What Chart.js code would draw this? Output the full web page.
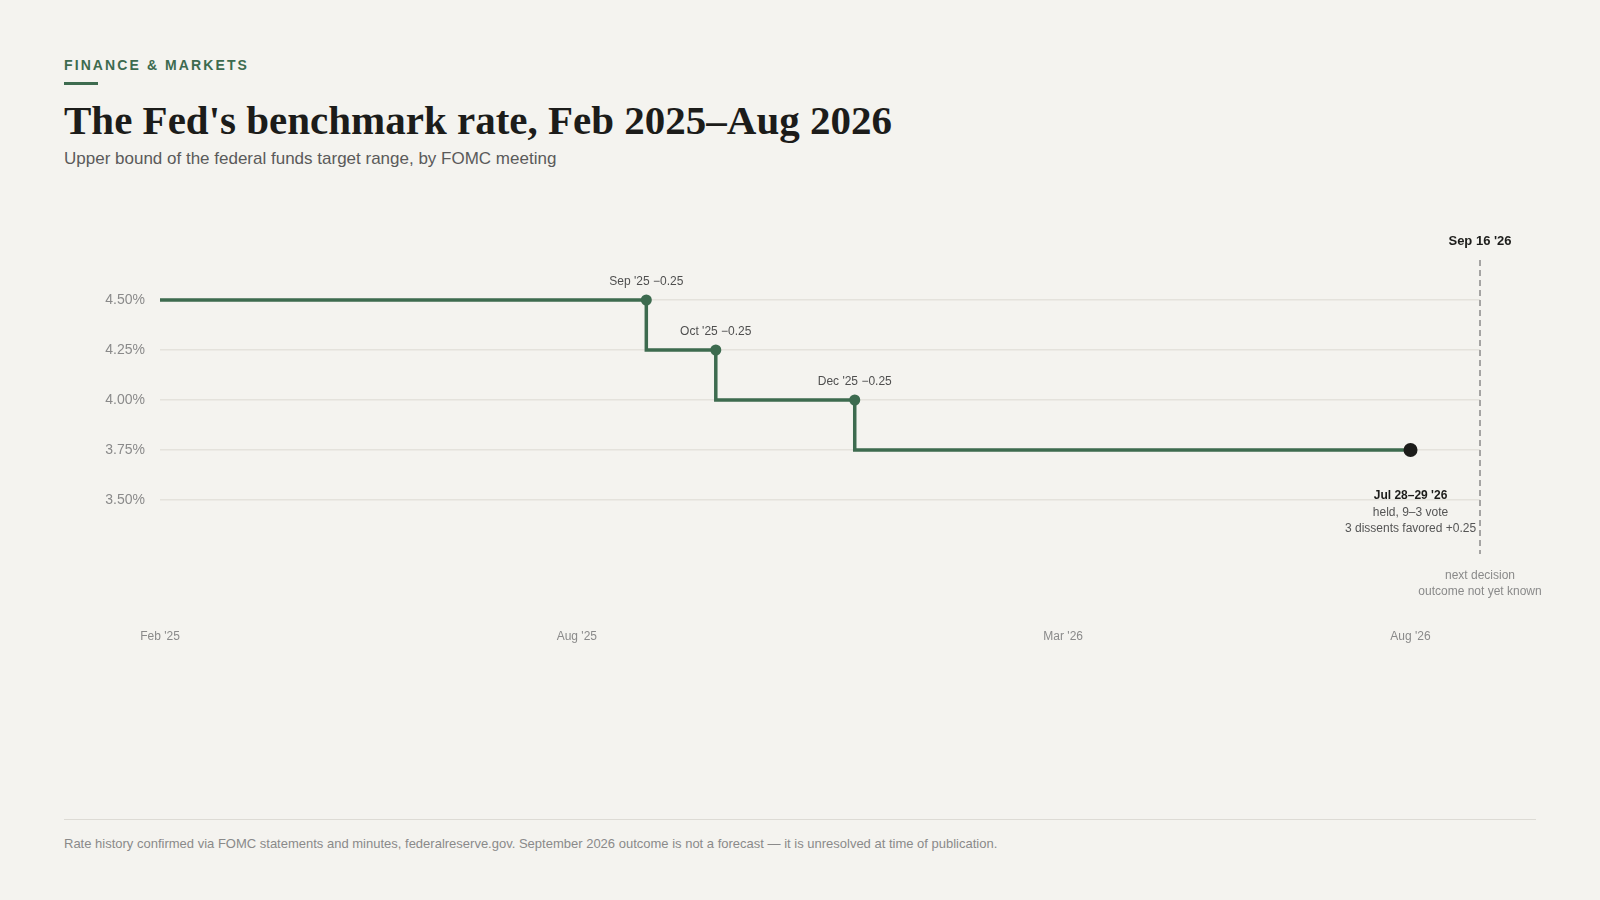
<!DOCTYPE html>
<html>
<head>
<meta charset="utf-8">
<script src="https://cdn.jsdelivr.net/npm/chart.js@4.4.1/dist/chart.umd.min.js"></script>
<style>
  html, body { margin: 0; padding: 0; }
  body {
    width: 1600px; height: 900px; position: relative; overflow: hidden;
    background: #f4f3ef; font-family: "Liberation Sans", Arial, sans-serif;
  }
  .kicker {
    position: absolute; left: 64px; top: 58px; font-size: 14px; line-height: 14px;
    font-weight: bold; letter-spacing: 2.1px; color: #3d6b4f;
  }
  .kicker_bar { position: absolute; left: 64px; top: 82px; width: 34px; height: 3px; background: #3d6b4f; }
  .title {
    position: absolute; left: 64px; top: 100px; margin: 0;
    font-family: "Liberation Serif", "Times New Roman", serif; font-weight: bold;
    font-size: 41px; line-height: 41px; color: #1c1c1a;
  }
  .subtitle { position: absolute; left: 64px; top: 150px; font-size: 17px; line-height: 17px; color: #5a5a5a; }
  .chart_wrap { position: absolute; left: 0; top: 200px; width: 1600px; height: 480px; }
  .rule { position: absolute; left: 64px; top: 819px; width: 1472px; height: 1px; background: #dddbd5; }
  .source { position: absolute; left: 64px; top: 837px; font-size: 13px; line-height: 13px; color: #8a8a8a; }
</style>
</head>
<body>
  <div class="kicker">FINANCE &amp; MARKETS</div>
  <div class="kicker_bar"></div>
  <h1 class="title">The Fed's benchmark rate, Feb 2025–Aug 2026</h1>
  <div class="subtitle">Upper bound of the federal funds target range, by FOMC meeting</div>
  <div class="chart_wrap"><canvas id="rateChart" width="1600" height="480"></canvas></div>
  <div class="rule"></div>
  <div class="source">Rate history confirmed via FOMC statements and minutes, federalreserve.gov. September 2026 outcome is not a forecast — it is unresolved at time of publication.</div>

<script>
// Months on the x axis, one per category
const months = ["Feb '25", "Mar '25", "Apr '25", "May '25", "Jun '25", "Jul '25", "Aug '25",
  "Sep '25", "Oct '25", "Nov '25", "Dec '25", "Jan '26", "Feb '26", "Mar '26", "Apr '26",
  "May '26", "Jun '26", "Jul '26", "Aug '26", "Sep '26"];

// Upper bound of the target range (%), null = not yet decided
const rates = [4.50, 4.50, 4.50, 4.50, 4.50, 4.50, 4.50, 4.50, 4.25, 4.00, 4.00,
  3.75, 3.75, 3.75, 3.75, 3.75, 3.75, 3.75, 3.75, null];

// Which month labels show under the axis
const shownMonths = ["Feb '25", "Aug '25", "Mar '26", "Aug '26"];
const yTicks = [3.50, 3.75, 4.00, 4.25, 4.50];

// Cut annotations
const cutMonths = ["Sep '25", "Oct '25", "Dec '25"];
const cutLabels = ["Sep '25 −0.25", "Oct '25 −0.25", "Dec '25 −0.25"];

// Latest meeting and the pending one
const latestMonth = "Aug '26";
const latestNote = ["Jul 28–29 '26", "held, 9–3 vote", "3 dissents favored +0.25"];
const nextMonth = "Sep '26";
const nextTitle = "Sep 16 '26";
const nextNote = ["next decision", "outcome not yet known"];

const GREEN = '#3d6b4f';
const DARK = '#1c1c1a';
const SANS = '"Liberation Sans", Arial, sans-serif';

const latestIdx = months.indexOf(latestMonth);
const cutIdx = cutMonths.map(function (m) { return months.indexOf(m); });

// Draws the dashed "next decision" line and text labels
const annotations = {
  id: 'annotations',
  afterDatasetsDraw: function (chart) {
    const ctx = chart.ctx,
      x = chart.scales.x,
      y = chart.scales.y,
      area = chart.chartArea;

    ctx.save();
    ctx.textAlign = 'center';
    ctx.textBaseline = 'middle';

    // cut labels above each step
    ctx.font = '12px ' + SANS;
    ctx.fillStyle = '#4f4f4f';
    cutIdx.forEach(function (i, n) {
      ctx.fillText(cutLabels[n], x.getPixelForValue(i), y.getPixelForValue(rates[i]) - 18);
    });

    // latest meeting note
    const lx = x.getPixelForValue(latestIdx),
      ly = y.getPixelForValue(rates[latestIdx]);
    ctx.font = 'bold 12px ' + SANS;
    ctx.fillStyle = DARK;
    ctx.fillText(latestNote[0], lx, ly + 46);
    ctx.font = '12px ' + SANS;
    ctx.fillStyle = '#555';
    ctx.fillText(latestNote[1], lx, ly + 63);
    ctx.fillText(latestNote[2], lx, ly + 79);

    // next meeting dashed line
    const nx = x.getPixelForValue(months.indexOf(nextMonth));
    ctx.beginPath();
    ctx.setLineDash([6, 4]);
    ctx.lineWidth = 1.5;
    ctx.strokeStyle = '#8a8a8a';
    ctx.moveTo(nx, area.top);
    ctx.lineTo(nx, area.bottom);
    ctx.stroke();
    ctx.setLineDash([]);

    ctx.font = 'bold 13px ' + SANS;
    ctx.fillStyle = DARK;
    ctx.fillText(nextTitle, nx, area.top - 19);
    ctx.font = '12px ' + SANS;
    ctx.fillStyle = '#8a8a8a';
    ctx.fillText(nextNote[0], nx, area.bottom + 22);
    ctx.fillText(nextNote[1], nx, area.bottom + 38);
    ctx.restore();
  }
};

const ctx = document.getElementById('rateChart').getContext('2d');
const chart = new Chart(ctx, {
  type: 'line',
  data: {
    labels: months,
    datasets: [{
      data: rates,
      borderColor: GREEN,
      borderWidth: 3.5,
      stepped: 'after',
      fill: false,
      pointRadius: function (c) {
        if (c.dataIndex === latestIdx) return 7;
        return cutIdx.indexOf(c.dataIndex) > -1 ? 5.5 : 0;
      },
      pointHoverRadius: function (c) {
        if (c.dataIndex === latestIdx) return 7;
        return cutIdx.indexOf(c.dataIndex) > -1 ? 5.5 : 0;
      },
      pointBackgroundColor: function (c) { return c.dataIndex === latestIdx ? DARK : GREEN; },
      pointBorderWidth: 0,
      clip: false
    }]
  },
  options: {
    responsive: false,
    animation: false,
    layout: { padding: { left: 64, right: 120, top: 60, bottom: 0 } },
    plugins: { legend: { display: false }, tooltip: { enabled: false } },
    scales: {
      x: {
        offset: false,
        grid: { display: false, drawTicks: false },
        border: { display: false },
        afterFit: function (scale) { scale.height = 126; },
        ticks: {
          autoSkip: false,
          maxRotation: 0,
          padding: 75,
          color: '#8a8a8a',
          font: { family: SANS, size: 12 },
          callback: function (v) {
            const m = months[v];
            return shownMonths.indexOf(m) > -1 ? m : '';
          }
        }
      },
      y: {
        min: 3.23,
        max: 4.70,
        afterFit: function (scale) { scale.width = 96; },
        afterBuildTicks: function (scale) {
          scale.ticks = yTicks.map(function (v) { return { value: v }; });
        },
        grid: { color: '#e4e2dc', lineWidth: 1.5, drawTicks: false },
        border: { display: false },
        ticks: {
          padding: 15,
          color: '#8a8a8a',
          font: { family: SANS, size: 14 },
          callback: function (v) { return v.toFixed(2) + '%'; }
        }
      }
    }
  },
  plugins: [annotations]
});
</script>
</body>
</html>
